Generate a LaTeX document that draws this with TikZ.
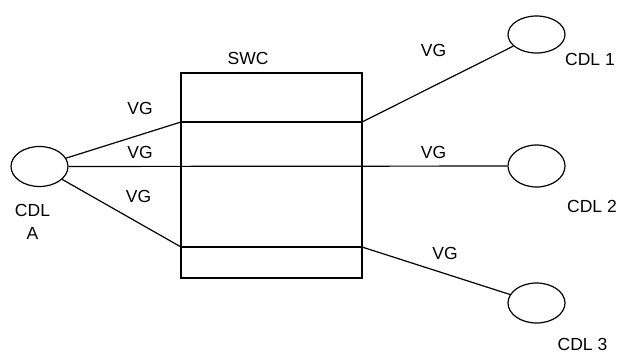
\documentclass[tikz,border=0pt]{standalone}
\usepackage{fontspec}
\setmainfont{Liberation Sans}
\usetikzlibrary{shapes.geometric}
\begin{document}
\begin{tikzpicture}[x=1pt,y=-1pt,
  cdl/.style={draw,ellipse,line width=1.2pt,inner sep=0pt,minimum width=57pt,minimum height=40pt},
  lbl/.style={inner sep=0pt,font=\fontsize{17.5}{19}\selectfont},
  wire/.style={line width=1.2pt}]
\useasboundingbox (0,0) rectangle (621,356);
\node[draw,line width=1.2pt,minimum width=181pt,minimum height=205pt,inner sep=0pt] (swc) at (271.5,175.5) {};
\node[cdl] (A) at (39.5,166.5) {};
\node[cdl,minimum height=37pt] (B1) at (536.5,34.5) {};
\node[cdl,minimum height=42pt] (B2) at (536.5,166) {};
\node[cdl] (B3) at (536.5,303) {};
\coordinate (l1) at (181,122);
\coordinate (r1) at (362,122);
\coordinate (l3) at (181,247);
\coordinate (r3) at (362,247);
\draw[wire] (A) -- (l1);
\draw[wire] (l1) -- (r1);
\draw[wire] (r1) -- (B1);
\draw[wire] (A) -- (B2);
\draw[wire] (A) -- (l3);
\draw[wire] (l3) -- (r3);
\draw[wire] (r3) -- (B3);
\node[lbl] (tswc) at (248,58.5) {SWC};
\node[lbl] (vg1) at (140,108.5) {VG};
\node[lbl] (vg2) at (140,152.5) {VG};
\node[lbl] (vg3) at (138.5,196.5) {VG};
\node[lbl] (vg4) at (433.5,50) {VG};
\node[lbl] (vg5) at (433.5,152.5) {VG};
\node[lbl] (vg6) at (445,253.5) {VG};
\node[lbl] (tA1) at (32.5,210) {CDL};
\node[lbl] (tA2) at (32.5,233.5) {A};
\node[lbl] (t1) at (590,59) {CDL 1};
\node[lbl] (t2) at (592,206.5) {CDL 2};
\node[lbl] (t3) at (582.5,344) {CDL 3};
\end{tikzpicture}
\end{document}
